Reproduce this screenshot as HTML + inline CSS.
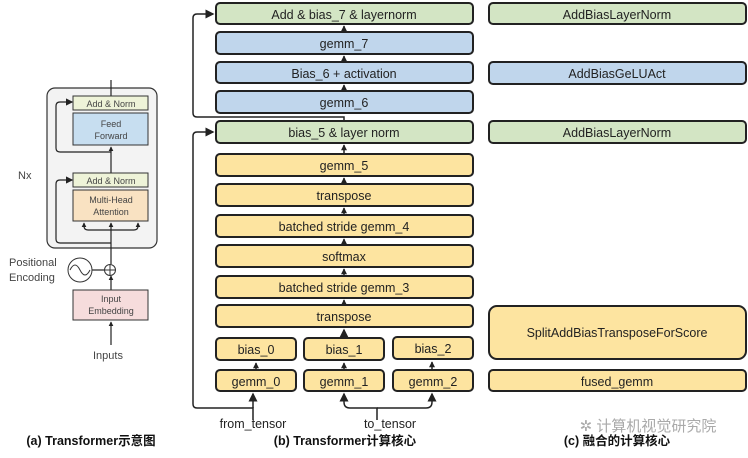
<!DOCTYPE html>
<html><head><meta charset="utf-8"><style>
html,body{margin:0;padding:0;background:#fff;}
svg{display:block;}
text{font-family:"Liberation Sans","Noto Sans CJK SC",sans-serif;}
</style></head><body>
<svg width="748" height="458" viewBox="0 0 748 458" xmlns="http://www.w3.org/2000/svg">
<defs>
<marker id="a" markerWidth="6" markerHeight="6" refX="5" refY="3" orient="auto"><path d="M0,0 L6,3 L0,6 z" fill="#222"/></marker>
<marker id="s" markerWidth="4" markerHeight="4" refX="3.5" refY="2" orient="auto"><path d="M0,0 L4,2 L0,4 z" fill="#222"/></marker>
</defs>
<g stroke="#222" stroke-width="1.5" fill="none">
<path d="M344 120 V117 H197 Q193 117 193 113 V18 Q193 14 197 14 H213" marker-end="url(#a)"/>
<path d="M253 420 V408 H197 Q193 408 193 404 V136 Q193 132 197 132 H213" marker-end="url(#a)"/>
<path d="M253 408 V394" marker-end="url(#a)"/>
<path d="M377 420 V408 H350 Q344 408 344 402 V394" marker-end="url(#a)"/>
<path d="M377 408 H426 Q432 408 432 402 V394" marker-end="url(#a)"/>
<path d="M256 369 V363" marker-end="url(#s)"/>
<path d="M344 369 V363" marker-end="url(#s)"/>
<path d="M432 369 V362" marker-end="url(#s)"/>
<path d="M344 338 V330" marker-end="url(#a)"/>
<path d="M344 32 V26" marker-end="url(#s)"/>
<path d="M344 62 V56" marker-end="url(#s)"/>
<path d="M344 91 V85" marker-end="url(#s)"/>
<path d="M344 154 V145" marker-end="url(#s)"/>
<path d="M344 184 V178" marker-end="url(#s)"/>
<path d="M344 215 V208" marker-end="url(#s)"/>
<path d="M344 245 V239" marker-end="url(#s)"/>
<path d="M344 276 V269" marker-end="url(#s)"/>
<path d="M344 305 V300" marker-end="url(#s)"/>
</g>
<g stroke="#222" stroke-width="2">
<rect x="216" y="3" width="257" height="21" rx="4" fill="#d3e5c4"/>
<rect x="216" y="32" width="257" height="22" rx="4" fill="#c0d6ec"/>
<rect x="216" y="62" width="257" height="21" rx="4" fill="#c0d6ec"/>
<rect x="216" y="91" width="257" height="22" rx="4" fill="#c0d6ec"/>
<rect x="216" y="121" width="257" height="22" rx="4" fill="#d3e5c4"/>
<rect x="216" y="154" width="257" height="22" rx="4" fill="#fde4a0"/>
<rect x="216" y="184" width="257" height="22" rx="4" fill="#fde4a0"/>
<rect x="216" y="215" width="257" height="22" rx="4" fill="#fde4a0"/>
<rect x="216" y="245" width="257" height="22" rx="4" fill="#fde4a0"/>
<rect x="216" y="276" width="257" height="22" rx="4" fill="#fde4a0"/>
<rect x="216" y="305" width="257" height="22" rx="4" fill="#fde4a0"/>
<rect x="216" y="338" width="80" height="22" rx="4" fill="#fde4a0"/>
<rect x="304" y="338" width="80" height="22" rx="4" fill="#fde4a0"/>
<rect x="393" y="337" width="80" height="22" rx="4" fill="#fde4a0"/>
<rect x="216" y="370" width="80" height="21" rx="4" fill="#fde4a0"/>
<rect x="304" y="370" width="80" height="21" rx="4" fill="#fde4a0"/>
<rect x="393" y="370" width="80" height="21" rx="4" fill="#fde4a0"/>
<rect x="489" y="3" width="257" height="21" rx="4" fill="#d3e5c4"/>
<rect x="489" y="62" width="257" height="22" rx="4" fill="#c0d6ec"/>
<rect x="489" y="121" width="257" height="22" rx="4" fill="#d3e5c4"/>
<rect x="489" y="306" width="257" height="53" rx="8" fill="#fde4a0"/>
<rect x="489" y="370" width="257" height="21" rx="4" fill="#fde4a0"/>
</g>
<g font-size="12.5" fill="#222" text-anchor="middle">
<text x="344" y="19">Add &amp; bias_7 &amp; layernorm</text>
<text x="344" y="48">gemm_7</text>
<text x="344" y="78">Bias_6 + activation</text>
<text x="344" y="107">gemm_6</text>
<text x="344" y="137">bias_5 &amp; layer norm</text>
<text x="344" y="170">gemm_5</text>
<text x="344" y="200">transpose</text>
<text x="344" y="231">batched stride gemm_4</text>
<text x="344" y="261">softmax</text>
<text x="344" y="292">batched stride gemm_3</text>
<text x="344" y="321">transpose</text>
<text x="256" y="354">bias_0</text>
<text x="344" y="354">bias_1</text>
<text x="433" y="353">bias_2</text>
<text x="256" y="386">gemm_0</text>
<text x="344" y="386">gemm_1</text>
<text x="433" y="386">gemm_2</text>
<text x="617" y="19">AddBiasLayerNorm</text>
<text x="617" y="78">AddBiasGeLUAct</text>
<text x="617" y="137">AddBiasLayerNorm</text>
<text x="617" y="337">SplitAddBiasTransposeForScore</text>
<text x="617" y="386">fused_gemm</text>
<text x="253" y="428">from_tensor</text>
<text x="390" y="428">to_tensor</text>
</g>
<g font-size="12.5" font-weight="bold" fill="#111" text-anchor="middle">
<text x="91" y="445">(a) Transformer示意图</text>
<text x="345" y="445">(b) Transformer计算核心</text>
<text x="617" y="445">(c) 融合的计算核心</text>
</g>
<text x="648" y="431" font-size="15" fill="#aaa" text-anchor="middle">✲ 计算机视觉研究院</text>
<!-- left diagram -->
<rect x="47" y="88" width="110" height="160" rx="8" fill="#f3f3f3" stroke="#333" stroke-width="1.2"/>
<g stroke="#222" stroke-width="1.2" fill="none">
<path d="M111 80 V96"/>
<path d="M111 173 V147" marker-end="url(#s)"/>
<path d="M111 290 V276" marker-end="url(#s)"/>
<path d="M111 264 V223" marker-end="url(#s)"/>
<path d="M111 345 V322" marker-end="url(#s)"/>
<path d="M111 152 H60 Q56 152 56 148 V106 Q56 102 60 102 H72" marker-end="url(#a)"/>
<path d="M111 243 H60 Q56 243 56 239 V184 Q56 180 60 180 H72" marker-end="url(#a)"/>
<path d="M111 230 H88 Q84 230 84 226 V223" marker-end="url(#s)"/>
<path d="M111 230 H134 Q138 230 138 226 V223" marker-end="url(#s)"/>
<path d="M92 270 H105"/>
</g>
<g stroke="#333" stroke-width="1">
<rect x="73" y="96" width="75" height="14" fill="#eef3d8"/>
<rect x="73" y="113" width="75" height="32" fill="#c7def0"/>
<rect x="73" y="173" width="75" height="14" fill="#eef3d8"/>
<rect x="73" y="190" width="75" height="31" fill="#f9e2c2"/>
<rect x="73" y="290" width="75" height="30" fill="#f6dcdc"/>
<circle cx="110" cy="270" r="5.5" fill="#fff"/>
<circle cx="80" cy="270" r="12" fill="#fff"/>
<path d="M104.5 270 H115.5 M110 264.5 V275.5" fill="none"/>
<path d="M70 270 Q75 260 80 270 Q85 280 90 270" fill="none"/>
</g>
<g font-size="9" fill="#444" text-anchor="middle">
<text x="111" y="107">Add &amp; Norm</text>
<text x="111" y="127">Feed</text><text x="111" y="139">Forward</text>
<text x="111" y="184">Add &amp; Norm</text>
<text x="111" y="203">Multi-Head</text><text x="111" y="215">Attention</text>
<text x="111" y="302">Input</text><text x="111" y="314">Embedding</text>
</g>
<g font-size="11" fill="#444">
<text x="18" y="179">Nx</text>
<text x="9" y="266">Positional</text>
<text x="9" y="281">Encoding</text>
<text x="93" y="359">Inputs</text>
</g>
</svg>
</body></html>
